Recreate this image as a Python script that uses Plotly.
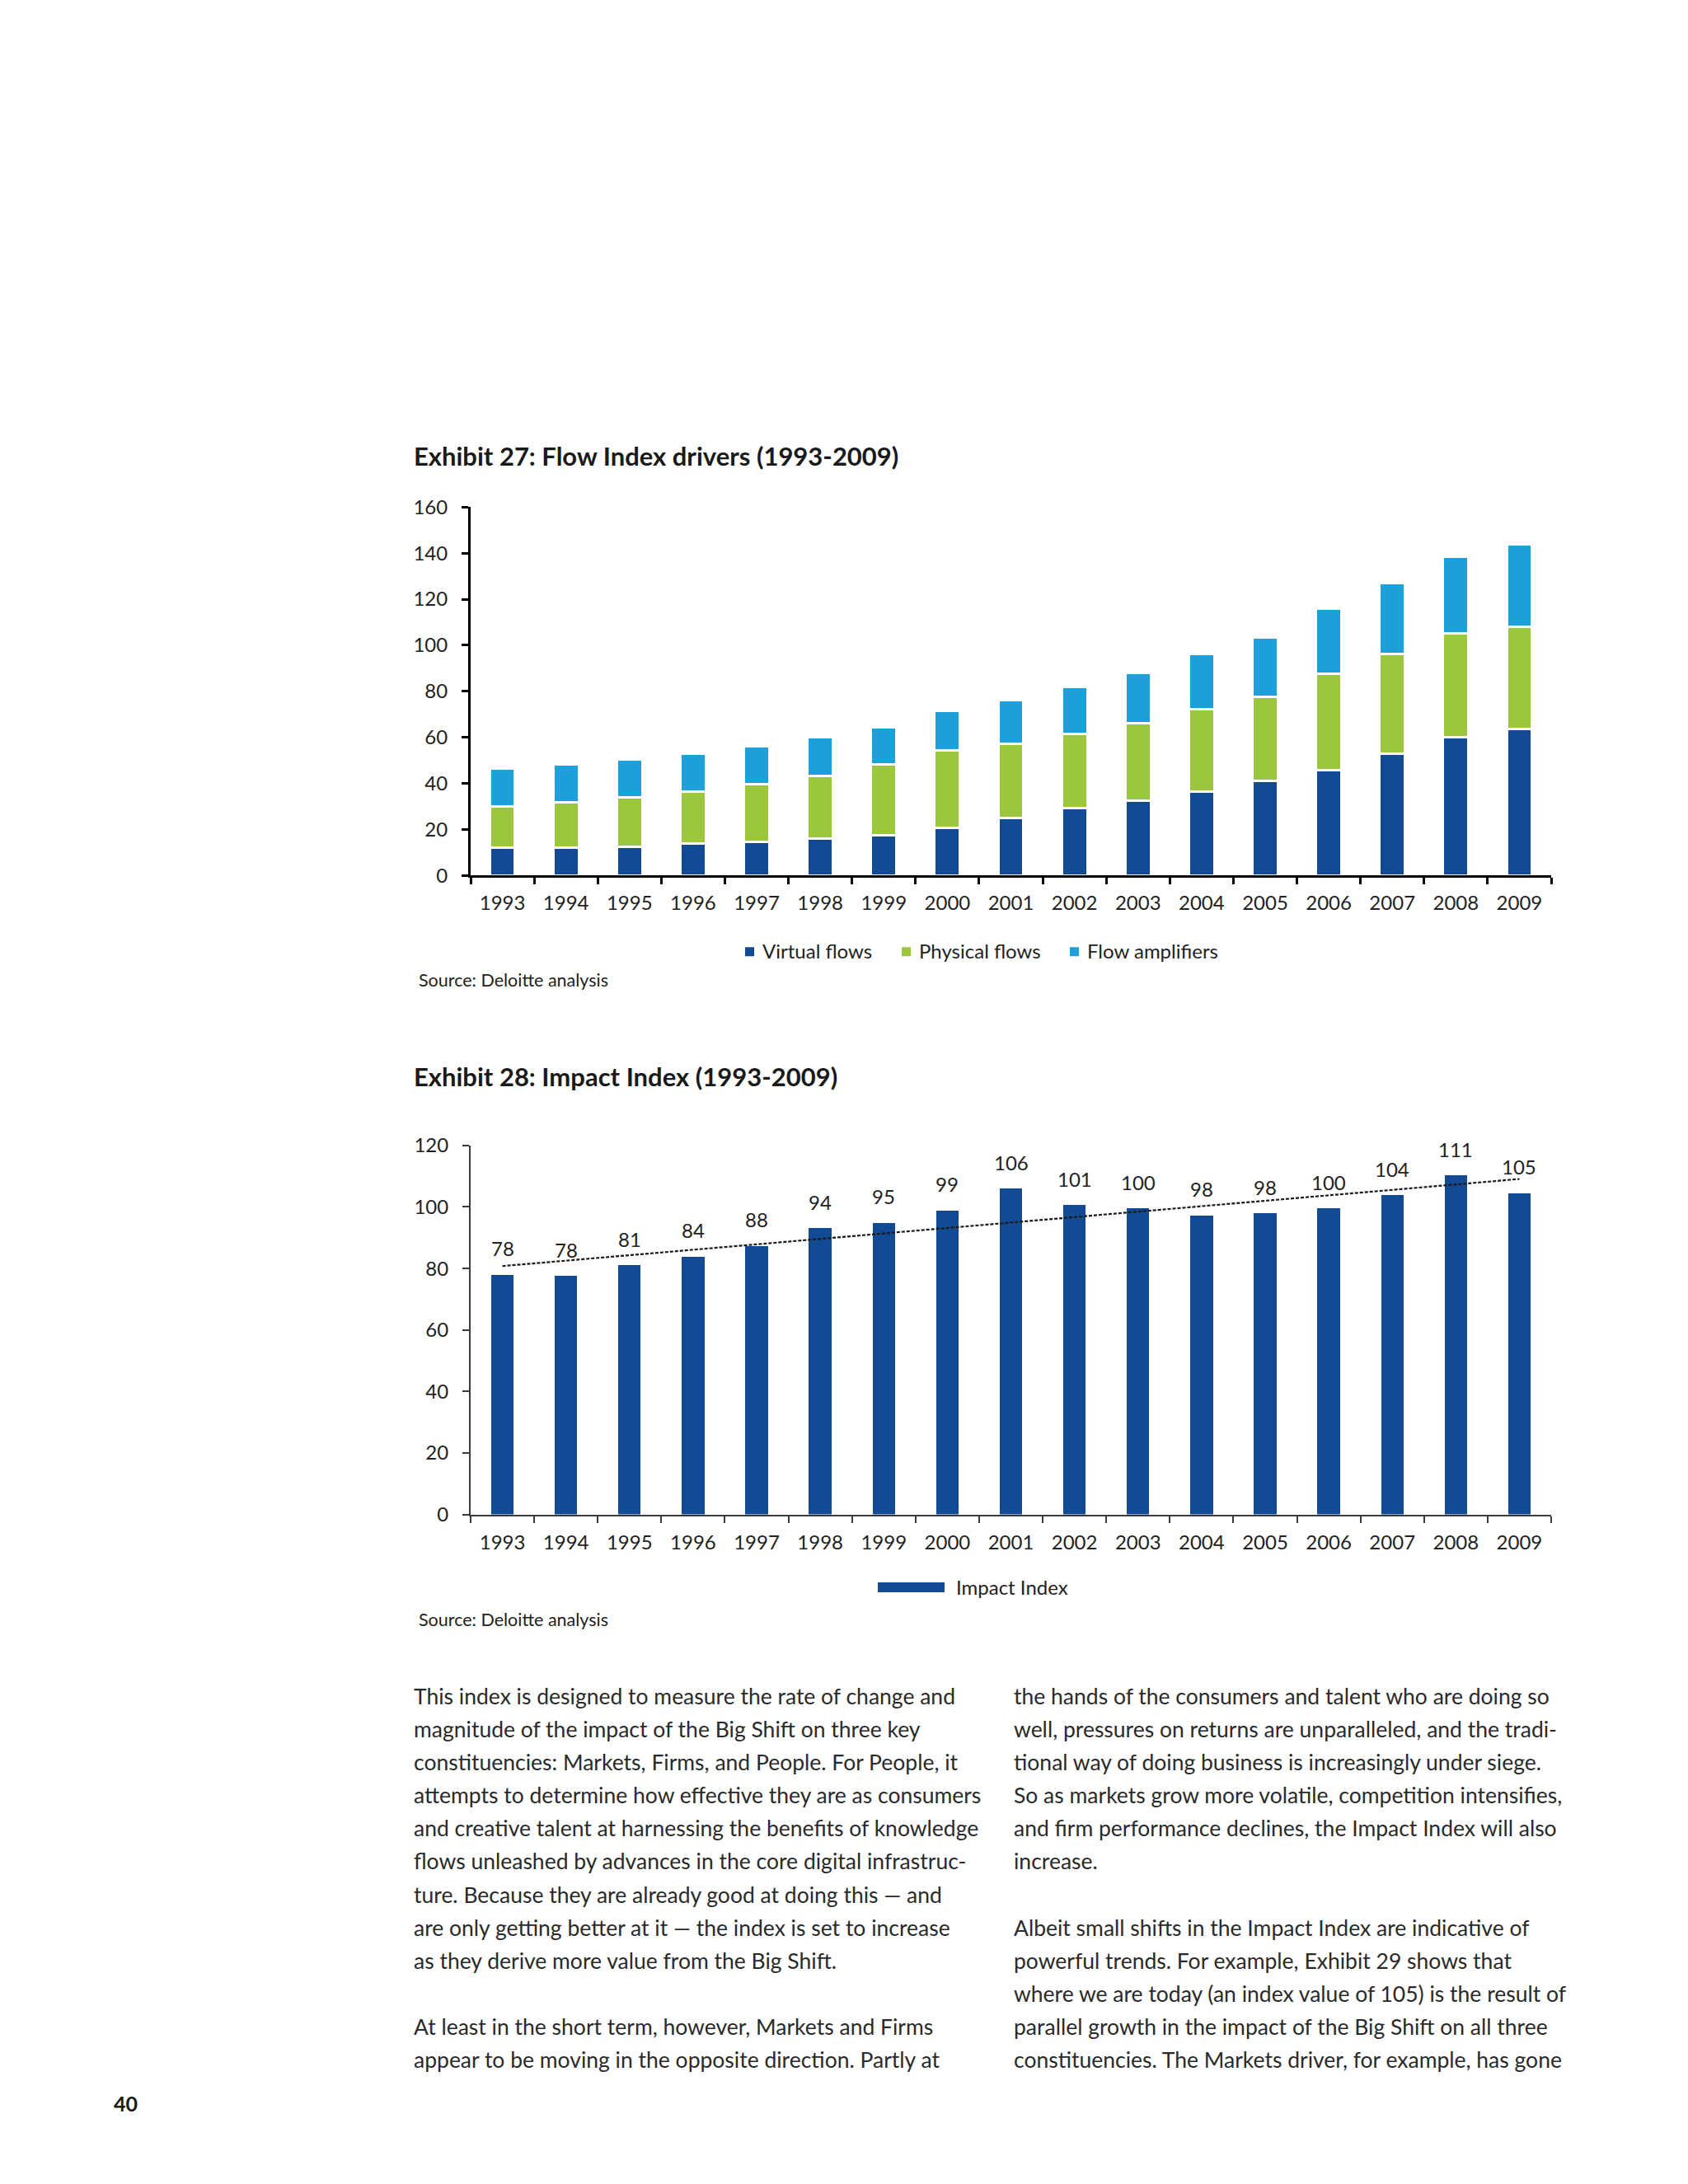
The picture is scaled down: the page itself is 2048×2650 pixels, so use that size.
import numpy as np
import plotly.graph_objects as go

# target page is 2048 x 2650 px; the html body adds an 8 px margin,
# so the figure is drawn 16 px smaller and every position is shifted by 8
PAGE_OFF = 8
W, H = 2048 - 2 * PAGE_OFF, 2650 - 2 * PAGE_OFF
# small vertical correction seen in the rendered page (content sits ~15 px low
# and is squeezed by ~0.9 %)
Y_STRETCH, Y_SHIFT = 1.0094, 15


def px(x):
    return (x - PAGE_OFF) / W


def py(y):
    return 1 - (Y_STRETCH * y - Y_SHIFT - PAGE_OFF) / H


years = ["1993", "1994", "1995", "1996", "1997", "1998", "1999", "2000", "2001",
         "2002", "2003", "2004", "2005", "2006", "2007", "2008", "2009"]

# Exhibit 27 - Flow Index drivers
virtual_flows = [12.3, 12.3, 12.6, 13.8, 14.6, 15.9, 17.6, 20.8, 25.1,
                 29.4, 32.7, 36.4, 41.0, 45.9, 52.8, 59.9, 63.5]
physical_flows = [17.7, 19.4, 21.4, 22.6, 25.1, 27.3, 30.5, 33.4, 32.2,
                  32.0, 33.3, 35.8, 36.5, 41.6, 43.5, 45.1, 44.6]
flow_amplifiers = [16.6, 16.4, 16.5, 16.4, 16.6, 16.7, 16.4, 17.3, 19.0,
                   20.5, 22.1, 24.1, 25.9, 28.4, 30.5, 33.3, 35.8]
series_names = ["Virtual flows", "Physical flows", "Flow amplifiers"]

# Exhibit 28 - Impact Index
impact_index = [77.9, 77.6, 81.1, 83.8, 87.3, 93.1, 94.9, 98.9, 105.9,
                100.6, 99.5, 97.3, 97.9, 99.5, 103.8, 110.3, 104.5]
impact_labels = ["78", "78", "81", "84", "88", "94", "95", "99", "106",
                 "101", "100", "98", "98", "100", "104", "111", "105"]

left_lines = [
    "This index is designed to measure the rate of change and",
    "magnitude of the impact of the Big Shift on three key",
    "constituencies: Markets, Firms, and People. For People, it",
    "attempts to determine how effective they are as consumers",
    "and creative talent at harnessing the benefits of knowledge",
    "flows unleashed by advances in the core digital infrastruc-",
    "ture. Because they are already good at doing this \u2014 and",
    "are only getting better at it \u2014 the index is set to increase",
    "as they derive more value from the Big Shift.",
    "",
    "At least in the short term, however, Markets and Firms",
    "appear to be moving in the opposite direction. Partly at",
]
right_lines = [
    "the hands of the consumers and talent who are doing so",
    "well, pressures on returns are unparalleled, and the tradi-",
    "tional way of doing business is increasingly under siege.",
    "So as markets grow more volatile, competition intensifies,",
    "and firm performance declines, the Impact Index will also",
    "increase.",
    "",
    "Albeit small shifts in the Impact Index are indicative of",
    "powerful trends. For example, Exhibit 29 shows that",
    "where we are today (an index value of 105) is the result of",
    "parallel growth in the impact of the Big Shift on all three",
    "constituencies. The Markets driver, for example, has gone",
]

FONT = "Lato"
TXT = "#222222"
DARK_BLUE = "#134a94"
GREEN = "#9bc63d"
LIGHT_BLUE = "#1ba0d9"
colors = [DARK_BLUE, GREEN, LIGHT_BLUE]

fig = go.Figure()

# stacked bars, white separators between segments
for name, vals, col in zip(series_names, [virtual_flows, physical_flows, flow_amplifiers], colors):
    fig.add_trace(go.Bar(x=years, y=vals, name=name, width=0.40,
                         marker=dict(color=col, line=dict(color="white", width=3)),
                         xaxis="x", yaxis="y", showlegend=False))

fig.add_trace(go.Bar(x=years, y=impact_index, name="Impact Index", width=0.355,
                     marker=dict(color=DARK_BLUE, line=dict(width=0)),
                     xaxis="x2", yaxis="y2", showlegend=False))

# linear trend through the impact index (as in the original Excel chart)
idx = np.arange(len(impact_index))
slope, icpt = np.polyfit(idx, impact_index, 1)
fig.add_trace(go.Scatter(x=[years[0], years[-1]], y=[icpt, icpt + slope * idx[-1]],
                         mode="lines", line=dict(color="#1a1a1a", width=2.2, dash="4px,2px"),
                         xaxis="x2", yaxis="y2", showlegend=False, hoverinfo="skip"))

x_dom = [px(571), px(1882)]
x_rng = [-0.5, len(years) - 0.5]
tickfont = dict(family=FONT, size=24, color=TXT)

fig.update_layout(
    width=W, height=H, autosize=False,
    margin=dict(l=0, r=0, t=0, b=0),
    paper_bgcolor="white", plot_bgcolor="white",
    barmode="stack",
    font=dict(family=FONT, color=TXT),
    xaxis=dict(domain=x_dom, anchor="y", type="category", range=x_rng, showgrid=False,
               showline=True, linecolor="black", linewidth=3,
               ticks="outside", tickson="boundaries", ticklen=8, tickwidth=3,
               tickcolor="black", tickfont=tickfont, ticklabelstandoff=10),
    yaxis=dict(domain=[py(1063), py(615)], anchor="x", range=[0, 160], dtick=20,
               showgrid=False, zeroline=False, showline=True, linecolor="black",
               linewidth=3, ticks="outside", ticklen=8, tickwidth=3, tickcolor="black",
               tickfont=tickfont, ticklabelstandoff=12),
    xaxis2=dict(domain=x_dom, anchor="y2", type="category", range=x_rng, showgrid=False,
                showline=True, linecolor="#3a3a3a", linewidth=2,
                ticks="outside", tickson="boundaries", ticklen=8, tickwidth=2,
                tickcolor="#3a3a3a", tickfont=tickfont, ticklabelstandoff=12),
    yaxis2=dict(domain=[py(1839.5), py(1391)], anchor="x2", range=[0, 120], dtick=20,
                showgrid=False, zeroline=False, showline=True, linecolor="#3a3a3a",
                linewidth=2, ticks="outside", ticklen=8, tickwidth=2, tickcolor="#3a3a3a",
                tickfont=tickfont, ticklabelstandoff=12),
    showlegend=False,
)

ann = []
shapes = []


def note(text, x, y, size, color=TXT, xanchor="left"):
    ann.append(dict(text=text, x=px(x), y=py(y), xref="paper", yref="paper",
                    xanchor=xanchor, yanchor="middle", showarrow=False,
                    font=dict(family=FONT, size=size, color=color)))


# titles
note("<b>Exhibit 27: Flow Index drivers (1993-2009)</b>", 500, 553, 31, "#1a1a1a")
note("<b>Exhibit 28: Impact Index (1993-2009)</b>", 500, 1307, 31, "#1a1a1a")

# sources
note("Source: Deloitte analysis", 506, 1190, 21.5)
note("Source: Deloitte analysis", 506, 1967, 21.5)

# legend of exhibit 27 (small squares + names)
for name, col, sx in zip(series_names, colors, [904, 1094, 1298]):
    shapes.append(dict(type="rect", xref="paper", yref="paper", x0=px(sx), x1=px(sx + 11),
                       y0=py(1161), y1=py(1150), fillcolor=col, line=dict(width=0)))
    note(name, sx + 19, 1154, 24)

# legend of exhibit 28 (wide swatch)
shapes.append(dict(type="rect", xref="paper", yref="paper", x0=px(1065), x1=px(1146),
                   y0=py(1934), y1=py(1922), fillcolor=DARK_BLUE, line=dict(width=0)))
note("Impact Index", 1158, 1928, 24)

# value labels above the impact bars (x given as category index)
for i, (v, lab) in enumerate(zip(impact_index, impact_labels)):
    ann.append(dict(text=lab, x=i, y=v, xref="x2", yref="y2", yshift=32,
                    xanchor="center", yanchor="middle", showarrow=False,
                    font=dict(family=FONT, size=24, color=TXT)))

# body text, one annotation per line
for col_x, lines in ((500, left_lines), (1228, right_lines)):
    for i, line in enumerate(lines):
        if line:
            note(line, col_x, 2060 + i * 40.2, 26.5, "#2a2a2a")

# page number
note("<b>40</b>", 136, 2555, 25, "#1a1a1a")

fig.update_layout(annotations=ann, shapes=shapes)
fig.write_html("out.html")
